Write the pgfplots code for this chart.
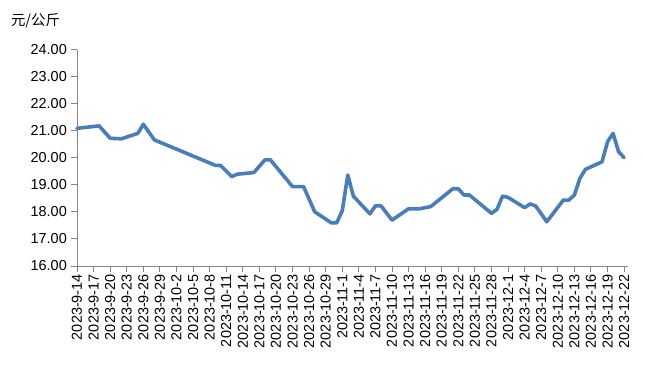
\documentclass[border=0pt]{standalone}
\usepackage{fontspec}
\setmainfont{Liberation Sans}
\newfontfamily\cjk{Noto Sans CJK SC}
\usepackage{pgfplots}
\pgfplotsset{compat=1.18}
\definecolor{lineblue}{HTML}{4A7EBB}
\definecolor{axgray}{HTML}{868686}
\begin{document}
\fontsize{14.5}{17}\selectfont
\begin{tikzpicture}
\path[use as bounding box] (0,0) rectangle (645bp,385bp);
\node[anchor=west] at (6bp,364bp) {\cjk 元/公斤};
\begin{axis}[
  at={(77bp,119bp)}, anchor=south west,
  width=551bp, height=216bp, scale only axis,
  xmin=0, xmax=99.7, ymin=16, ymax=24,
  ytick={16,17,...,24},
  xtick={0,3,...,99},
  xticklabels={2023-9-14,2023-9-17,2023-9-20,2023-9-23,2023-9-26,2023-9-29,2023-10-2,2023-10-5,2023-10-8,2023-10-11,2023-10-14,2023-10-17,2023-10-20,2023-10-23,2023-10-26,2023-10-29,2023-11-1,2023-11-4,2023-11-7,2023-11-10,2023-11-13,2023-11-16,2023-11-19,2023-11-22,2023-11-25,2023-11-28,2023-12-1,2023-12-4,2023-12-7,2023-12-10,2023-12-13,2023-12-16,2023-12-19,2023-12-22},
  axis lines*=left,
  axis line style={axgray, line width=1bp},
  tick align=outside,
  major tick length=6bp,
  tick style={axgray, line width=1bp},
  x tick label style={rotate=90, anchor=east, font=\fontsize{14.5}{17}\selectfont, inner sep=2bp},
  y tick label style={font=\fontsize{14.5}{17}\selectfont, inner sep=4bp},
  yticklabel style={/pgf/number format/.cd, fixed, fixed zerofill, precision=2, assume math mode=true},
  clip=false,
]
\addplot[lineblue, line width=3.6bp, line join=round, line cap=round] coordinates {
(0,21.10) (4,21.19) (6,20.73) (8,20.71) (11,20.91) (12,21.25) (14,20.67)
(25,19.73) (26,19.72) (28,19.31) (29,19.40) (32,19.46) (34,19.93) (35,19.93)
(39,18.94) (41,18.94) (43,18.01) (46,17.60) (47,17.60) (48,18.05) (49,19.37)
(50,18.59) (53,17.93) (54,18.23) (55,18.23) (57,17.70) (60,18.12) (62,18.12)
(64,18.20) (68,18.86) (69,18.86) (70,18.63) (71,18.63) (75,17.95) (76,18.10)
(77,18.59) (78,18.54) (81,18.16) (82,18.30) (83,18.22) (85,17.64) (88,18.44)
(89,18.44) (90,18.63) (91,19.25) (92,19.58) (95,19.86) (96,20.60) (97,20.91)
(98,20.23) (99,20.01)
};
\end{axis}
\end{tikzpicture}
\end{document}
